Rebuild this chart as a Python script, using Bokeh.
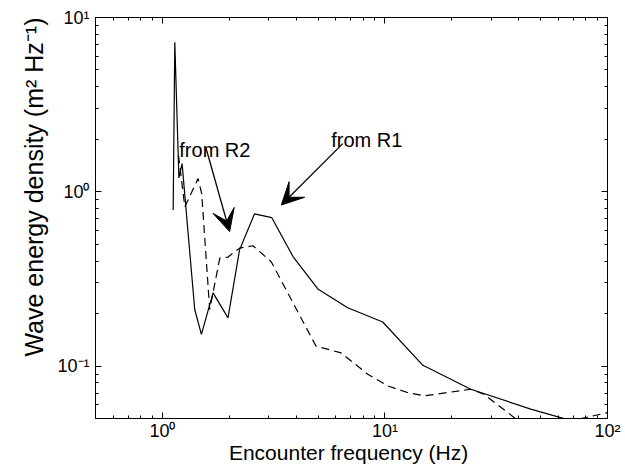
from bokeh.plotting import figure
from bokeh.models import (LogAxis, FixedTicker, CustomJSTickFormatter, Arrow,
                          VeeHead, Label, Range1d, Title)
from bokeh.embed import file_html
from bokeh.resources import INLINE

# ---- data ----
freq_r1 = [1.117, 1.136, 1.185, 1.225, 1.396, 1.496, 1.688, 1.97, 2.22, 2.59,
           3.10, 3.86, 4.99, 6.80, 9.77, 14.8, 24.3, 45.2, 80.0]
dens_r1 = [0.786, 7.2, 1.2, 1.45, 0.211, 0.152, 0.263, 0.189, 0.464, 0.746,
           0.71, 0.425, 0.277, 0.216, 0.179, 0.101, 0.0736, 0.0566, 0.046]

freq_r2 = [1.18, 1.26, 1.445, 1.50, 1.63, 1.81, 1.97, 2.22, 2.55, 3.08, 4.90,
           6.35, 8.37, 10.3, 12.6, 15.0, 24.3, 27.8, 37.9, 45.0, 100.0]
dens_r2 = [1.62, 0.82, 1.19, 0.98, 0.211, 0.416, 0.422, 0.475, 0.49, 0.397,
           0.130, 0.119, 0.0897, 0.0769, 0.0705, 0.0674, 0.0736, 0.0689,
           0.0509, 0.043, 0.054]

x_major = [1, 10, 100]
x_minor = [0.5, 0.6, 0.7, 0.8, 0.9, 2, 3, 4, 5, 6, 7, 8, 9,
           20, 30, 40, 50, 60, 70, 80, 90]
y_major = [0.1, 1, 10]
y_minor = [0.05, 0.06, 0.07, 0.08, 0.09, 0.2, 0.3, 0.4, 0.5, 0.6, 0.7, 0.8,
           0.9, 2, 3, 4, 5, 6, 7, 8, 9]

x_title = "Encounter  frequency (Hz)"
y_title = "Wave energy density (m\u00b2 Hz\u207b\u00b9)"

labels_text = ["from R2", "from R1"]
labels_x = [1.19, 5.73]
labels_y = [1.73, 1.97]
arrow_x0 = [1.564, 6.46]
arrow_y0 = [1.807, 1.89]
arrow_x1 = [2.003, 3.42]
arrow_y1 = [0.591, 0.839]

FONT = "Liberation Sans"

p = figure(width=625, height=466, x_axis_type="log", y_axis_type="log",
           x_range=Range1d(0.5, 100), y_range=Range1d(0.05, 10),
           output_backend="svg", toolbar_location=None,
           min_border_left=95, min_border_right=18, min_border_top=17,
           min_border_bottom=46)

p.background_fill_color = "white"
p.border_fill_color = "white"
p.outline_line_color = "black"
p.outline_line_width = 1
p.xgrid.visible = False
p.ygrid.visible = False

sup_code = """
const e = Math.round(Math.log10(tick));
const sup = {'-':'\u207b','0':'\u2070','1':'\u00b9','2':'\u00b2','3':'\u00b3',
             '4':'\u2074','5':'\u2075','6':'\u2076','7':'\u2077','8':'\u2078','9':'\u2079'};
return '10' + String(e).split('').map(c => sup[c]).join('');
"""
fmt = CustomJSTickFormatter(code=sup_code)
blank = CustomJSTickFormatter(code="return '';")

xt = FixedTicker(ticks=x_major, minor_ticks=x_minor)
yt = FixedTicker(ticks=y_major, minor_ticks=y_minor)


def style_axis(ax, ticker, formatter):
    ax.ticker = ticker
    ax.formatter = formatter
    ax.axis_line_color = "black"
    ax.major_tick_line_color = "black"
    ax.minor_tick_line_color = "black"
    ax.major_tick_in = 6
    ax.major_tick_out = 0
    ax.minor_tick_in = 3
    ax.minor_tick_out = 0
    ax.major_label_text_font = FONT
    ax.major_label_text_font_size = "18px"
    ax.major_label_text_color = "black"
    ax.axis_label_text_font = FONT
    ax.axis_label_text_font_size = "21px"
    ax.axis_label_text_font_style = "normal"
    ax.axis_label_text_color = "black"


style_axis(p.xaxis[0], xt, fmt)
style_axis(p.yaxis[0], yt, fmt)
p.xaxis[0].axis_label = x_title
p.xaxis[0].major_label_standoff = 2
p.xaxis[0].axis_label_standoff = -3
p.yaxis[0].major_label_standoff = 6

top = LogAxis()
style_axis(top, xt, blank)
top.major_label_standoff = 0
right = LogAxis()
style_axis(right, yt, blank)
right.major_label_standoff = 0
p.add_layout(top, "above")
p.add_layout(right, "right")

# y-axis title, aligned toward the top of the frame as in the reference
p.add_layout(Title(text=y_title, align="right", offset=0, standoff=14,
                   text_font=FONT, text_font_size="25px",
                   text_font_style="normal", text_color="black"), "left")

p.line(freq_r1, dens_r1, line_color="black", line_width=1.2)
p.line(freq_r2, dens_r2, line_color="black", line_width=1.2, line_dash="8 5")

for i in range(2):
    p.add_layout(Arrow(end=VeeHead(size=22, fill_color="black", line_color="black"),
                       x_start=arrow_x0[i], y_start=arrow_y0[i],
                       x_end=arrow_x1[i], y_end=arrow_y1[i],
                       line_color="black", line_width=1.3))
    p.add_layout(Label(x=labels_x[i], y=labels_y[i], text=labels_text[i],
                       text_font=FONT, text_font_size="20px",
                       text_color="black", text_baseline="alphabetic"))

open("out.html", "w").write(file_html(p, INLINE))
